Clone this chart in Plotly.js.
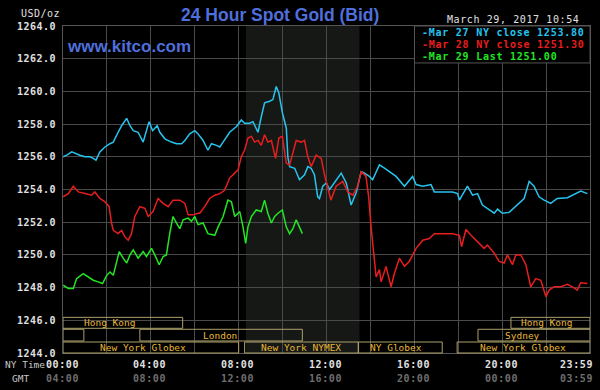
<!DOCTYPE html>
<html>
<head>
<meta charset="utf-8">
<script src="https://cdn.plot.ly/plotly-3.0.1.min.js"></script>
<style>
  html, body { margin: 0; padding: 0; background: #000; }
  #chart { width: 600px; height: 390px; }
</style>
</head>
<body>
<div id="chart"></div>
<script>
// ---------- DATA ----------
const mar27Hours = [0.01,0.17,0.40,0.55,0.77,1.0,1.23,1.38,1.5,1.68,1.91,2.14,2.29,2.51,2.67,2.9,3.05,3.2,3.42,3.65,3.8,3.92,4.08,4.29,4.41,4.64,4.94,5.17,5.4,5.55,5.77,6.0,6.15,6.38,6.6,6.76,6.99,7.14,7.29,7.59,7.9,8.12,8.27,8.5,8.65,8.88,9.03,9.18,9.41,9.56,9.71,9.83,9.99,10.17,10.24,10.32,10.55,10.77,11.0,11.15,11.3,11.45,11.6,11.68,11.83,11.99,12.14,12.36,12.67,12.9,13.12,13.35,13.58,13.73,13.95,14.1,14.41,14.64,14.86,15.17,15.55,15.92,16.08,16.38,16.76,16.91,17.74,17.97,18.05,18.42,18.65,18.88,19.1,19.41,19.64,19.79,20.01,20.32,20.62,21.0,21.23,21.45,21.68,21.91,22.21,22.51,22.97,23.2,23.58,23.88];
const mar27Vals = [1256.0,1256.1,1256.3,1256.2,1256.1,1256.0,1256.0,1255.9,1255.8,1256.3,1256.6,1256.8,1256.9,1257.5,1257.9,1258.35,1257.9,1257.6,1257.5,1256.9,1257.6,1258.15,1257.6,1257.9,1257.5,1257.1,1256.9,1256.8,1256.8,1257.0,1257.4,1257.6,1257.4,1257.0,1256.4,1256.8,1256.7,1256.6,1256.9,1257.5,1257.85,1258.25,1258.05,1258.05,1258.15,1257.5,1258.45,1259.3,1259.4,1259.5,1260.3,1259.9,1258.7,1257.75,1256.0,1255.4,1255.3,1254.6,1254.9,1255.4,1255.3,1254.9,1253.55,1253.45,1254.2,1254.4,1254.0,1254.4,1255.0,1254.4,1253.05,1253.8,1255.1,1255.0,1254.8,1254.6,1255.5,1255.3,1255.1,1254.8,1254.2,1254.8,1254.3,1254.2,1254.3,1253.85,1253.85,1253.75,1253.35,1254.2,1253.65,1253.75,1253.05,1252.75,1252.55,1252.8,1252.55,1252.6,1252.95,1253.45,1254.5,1254.2,1253.55,1253.35,1253.15,1253.45,1253.5,1253.65,1253.9,1253.75];

const mar28Hours = [0.01,0.24,0.47,0.7,1.0,1.3,1.45,1.68,1.91,2.1,2.21,2.29,2.51,2.67,2.82,2.97,3.12,3.27,3.5,3.73,3.88,4.1,4.33,4.56,4.79,5.01,5.32,5.55,5.7,5.92,6.15,6.23,6.45,6.68,6.91,7.14,7.36,7.59,7.82,7.97,8.12,8.27,8.42,8.58,8.73,8.88,9.03,9.18,9.33,9.49,9.68,9.83,9.99,10.17,10.32,10.47,10.62,10.85,11.0,11.15,11.3,11.53,11.76,11.91,12.0,12.2,12.44,12.74,12.97,13.2,13.42,13.58,13.8,13.92,14.03,14.14,14.26,14.41,14.49,14.71,14.94,15.09,15.32,15.55,15.77,16.08,16.38,16.68,16.91,17.74,18.05,18.15,18.35,18.58,18.88,19.18,19.33,19.64,19.86,20.09,20.24,20.47,20.62,20.85,21.08,21.3,21.53,21.76,21.99,22.14,22.36,22.67,22.97,23.2,23.42,23.58,23.88];
const mar28Vals = [1253.55,1253.75,1254.2,1253.85,1253.75,1253.65,1253.85,1253.45,1253.25,1252.95,1251.95,1251.5,1251.3,1251.5,1251.1,1250.9,1251.3,1252.35,1252.95,1252.85,1252.35,1252.65,1253.45,1253.15,1252.95,1253.35,1253.35,1253.15,1252.45,1252.45,1252.55,1252.55,1252.95,1253.45,1253.65,1253.75,1253.95,1254.7,1255.0,1255.2,1256.0,1256.4,1257.15,1257.25,1256.9,1257.0,1256.7,1257.35,1256.9,1257.0,1255.9,1257.15,1257.25,1255.6,1255.5,1256.3,1257.0,1256.9,1257.0,1256.0,1255.4,1256.1,1255.9,1254.9,1254.4,1253.35,1254.2,1254.5,1253.85,1253.65,1254.2,1255.1,1254.8,1253.55,1251.7,1250.1,1248.65,1249.1,1248.35,1249.3,1248.05,1248.85,1249.8,1249.3,1249.6,1250.4,1250.9,1251.0,1251.3,1251.3,1251.2,1250.5,1251.55,1251.2,1250.8,1250.4,1250.6,1250.1,1249.6,1249.5,1250.0,1249.4,1250.0,1250.0,1249.4,1248.05,1248.55,1248.45,1247.45,1247.85,1248.05,1248.05,1248.2,1248.05,1247.85,1248.3,1248.25];

const mar29Hours = [0.01,0.24,0.47,0.62,0.92,1.15,1.38,1.6,1.8,1.99,2.14,2.29,2.44,2.56,2.74,2.9,3.05,3.2,3.42,3.65,3.8,4.03,4.18,4.38,4.56,4.71,4.86,5.01,5.17,5.32,5.47,5.7,5.85,6.0,6.15,6.38,6.6,6.91,7.06,7.29,7.51,7.67,7.82,8.05,8.2,8.32,8.42,8.58,8.8,9.03,9.18,9.33,9.49,9.64,9.79,9.99,10.17,10.32,10.47,10.62,10.77,10.9];
const mar29Vals = [1248.15,1247.95,1247.95,1248.55,1248.85,1248.65,1248.45,1248.35,1248.25,1248.75,1248.95,1248.75,1249.5,1250.2,1249.8,1249.5,1250.0,1250.3,1249.8,1250.2,1249.9,1250.4,1250.0,1249.4,1249.9,1250.0,1251.3,1252.35,1251.95,1251.6,1252.15,1252.25,1252.05,1252.35,1251.85,1251.95,1251.3,1251.2,1251.7,1252.35,1253.35,1253.25,1252.35,1252.65,1251.7,1250.7,1251.7,1252.35,1252.75,1252.65,1253.35,1252.55,1251.95,1252.35,1252.55,1252.75,1251.7,1251.3,1251.6,1252.15,1251.7,1251.3];

const seriesLabels = ['Mar 27 NY close 1253.80', 'Mar 28 NY close 1251.30', 'Mar 29 Last 1251.00'];

const yTickVals = [1244,1246,1248,1250,1252,1254,1256,1258,1260,1262,1264];
const xTickHours = [0,4,8,12,16,20,24];
const nyTimeLabels = ['00:00','04:00','08:00','12:00','16:00','20:00','23:59'];
const gmtTimeLabels = ['04:00','08:00','12:00','16:00','20:00','00:00','03:59'];

const nymexStart = 8.33, nymexEnd = 13.5;

// trading sessions: name, row (1 = top), start hour, end hour, label centre hour
const sessionNames = ['Hong Kong','Hong Kong','','London','Sydney','New York Globex','New York NYMEX','NY Globex','New York Globex'];
const sessionRows  = [1,1,2,2,2,3,3,3,3];
const sessionStart = [0,20.4,0,3.5,18.9,0,8.27,13.45,17.95];
const sessionEnd   = [5.45,24,0.95,10.9,24,8.0,13.45,17.27,24];
const sessionLabelAt = [2.14,22.02,0,7.14,20.91,3.64,10.86,15.16,20.93];

const title = '24 Hour Spot Gold (Bid)';
const site = 'www.kitco.com';
const unit = 'USD/oz';
const stamp = 'March 29, 2017 10:54';

// ---------- STYLE ----------
const colCyan = '#26c4ee', colRed = '#e81e1e', colGreen = '#22e622';
const mono = 'DejaVu Sans Mono, monospace';
const rowGeom = {1: [0.0755, 0.109], 2: [0.0367, 0.0725], 3: [0.0, 0.0336]};
const spaced = (t, ls) => '<span style="letter-spacing:' + ls + 'px">' + t + '</span>';

const traces = [
  {x: mar27Hours, y: mar27Vals, mode: 'lines', line: {color: colCyan, width: 1.5}},
  {x: mar28Hours, y: mar28Vals, mode: 'lines', line: {color: colRed, width: 1.5}},
  {x: mar29Hours, y: mar29Vals, mode: 'lines', line: {color: colGreen, width: 1.5}}
];

const shapes = [
  {type: 'rect', xref: 'x', yref: 'paper', x0: nymexStart, x1: nymexEnd, y0: 0, y1: 1,
   fillcolor: '#161816', line: {width: 0}, layer: 'below'}
];
const annotations = [];

sessionNames.forEach((n, i) => {
  const g = rowGeom[sessionRows[i]];
  shapes.push({type: 'rect', xref: 'x', yref: 'paper', x0: sessionStart[i], x1: sessionEnd[i],
    y0: g[0], y1: g[1], line: {color: '#aca06a', width: 1}, fillcolor: 'rgba(0,0,0,0)', layer: 'above'});
  if (n) annotations.push({xref: 'x', yref: 'paper', x: sessionLabelAt[i], y: (g[0] + g[1]) / 2,
    text: n, showarrow: false, xanchor: 'center', yanchor: 'middle',
    font: {family: mono, size: 9.5, color: '#e8b838'}});
});

// legend box
shapes.push({type: 'rect', xref: 'paper', yref: 'paper', x0: 0.667, x1: 1, y0: 0.887, y1: 1,
  fillcolor: '#000', line: {color: '#555', width: 1}, layer: 'above'});
const legCols = [colCyan, colRed, colGreen];
const legY = [-6.5, -18.3, -30.1];
seriesLabels.forEach((s, i) => {
  annotations.push({xref: 'paper', yref: 'paper', x: 0.678, y: 1, yshift: legY[i],
    xanchor: 'left', yanchor: 'middle', showarrow: false, text: spaced('-' + s, 0.75),
    font: {family: mono, size: 10, color: legCols[i], weight: 'bold'}});
});

// x labels
xTickHours.forEach((h, i) => {
  const last = i === xTickHours.length - 1;
  annotations.push({xref: 'x', yref: 'paper', x: h, y: 0, yshift: -11.8, xshift: last ? 5 : -1,
    xanchor: last ? 'right' : 'center', yanchor: 'middle', showarrow: false, text: spaced(nyTimeLabels[i], 0.6),
    font: {family: mono, size: 10, color: '#e0e0e0', weight: 'bold'}});
  annotations.push({xref: 'x', yref: 'paper', x: h, y: 0, yshift: -25, xshift: last ? 5 : -1,
    xanchor: last ? 'right' : 'center', yanchor: 'middle', showarrow: false, text: spaced(gmtTimeLabels[i], 0.6),
    font: {family: mono, size: 10, color: '#6e6e6e', weight: 'bold'}});
});
annotations.push({xref: 'paper', yref: 'paper', x: -0.1139, y: 0, yshift: -11.8, xanchor: 'left', yanchor: 'middle',
  showarrow: false, text: 'NY Time', font: {family: mono, size: 9.5, color: '#c8c8c8'}});
annotations.push({xref: 'paper', yref: 'paper', x: -0.1006, y: 0, yshift: -25, xanchor: 'left', yanchor: 'middle',
  showarrow: false, text: 'GMT', font: {family: mono, size: 9.5, color: '#c8c8c8'}});

// top texts
annotations.push({xref: 'paper', yref: 'paper', x: -0.084, y: 1, yshift: 13, xanchor: 'left', yanchor: 'middle',
  showarrow: false, text: spaced(unit, 0.5), font: {family: mono, size: 10, color: '#e0e0e0'}});
annotations.push({xref: 'paper', yref: 'paper', x: 1, y: 1, yshift: 7, xanchor: 'right', yanchor: 'middle',
  xshift: -9, showarrow: false, text: spaced(stamp, 0.6), font: {family: mono, size: 10, color: '#e0e0e0'}});
annotations.push({xref: 'paper', yref: 'paper', x: 0.004, y: 1, yshift: -20, xanchor: 'left', yanchor: 'middle',
  showarrow: false, text: site, font: {family: 'Liberation Sans, Arial, sans-serif', size: 17, color: '#4f6fdc', weight: 'bold'}});

const layout = {
  width: 600, height: 390,
  paper_bgcolor: '#000', plot_bgcolor: '#000',
  margin: {l: 63, r: 10, t: 26, b: 37, pad: 0},
  showlegend: false,
  title: {text: title, x: 0.467, xanchor: 'center', xref: 'container', y: 0.962, yanchor: 'middle', yref: 'container',
    font: {family: 'Liberation Sans, Arial, sans-serif', size: 17.5, color: '#4f6fdc', weight: 'bold'}},
  xaxis: {range: [0, 24], tickvals: [0,2,4,6,8,10,12,14,16,18,20,22,24], showticklabels: false,
    showgrid: true, gridcolor: '#4a4a4a', gridwidth: 1, zeroline: false,
    showline: true, mirror: true, linecolor: '#555', linewidth: 1, ticks: ''},
  yaxis: {range: [1244, 1264], tickvals: yTickVals,
    ticktext: yTickVals.map(v => spaced(v.toFixed(1), 0.5)),
    showgrid: true, gridcolor: '#4a4a4a', gridwidth: 1, zeroline: false,
    showline: true, mirror: true, linecolor: '#555', linewidth: 1,
    ticks: 'outside', ticklen: 4, tickcolor: 'rgba(0,0,0,0)',
    tickfont: {family: mono, size: 10, color: '#e0e0e0', weight: 'bold'}},
  shapes: shapes,
  annotations: annotations
};

Plotly.newPlot('chart', traces, layout, {staticPlot: true, displayModeBar: false});
</script>
</body>
</html>
